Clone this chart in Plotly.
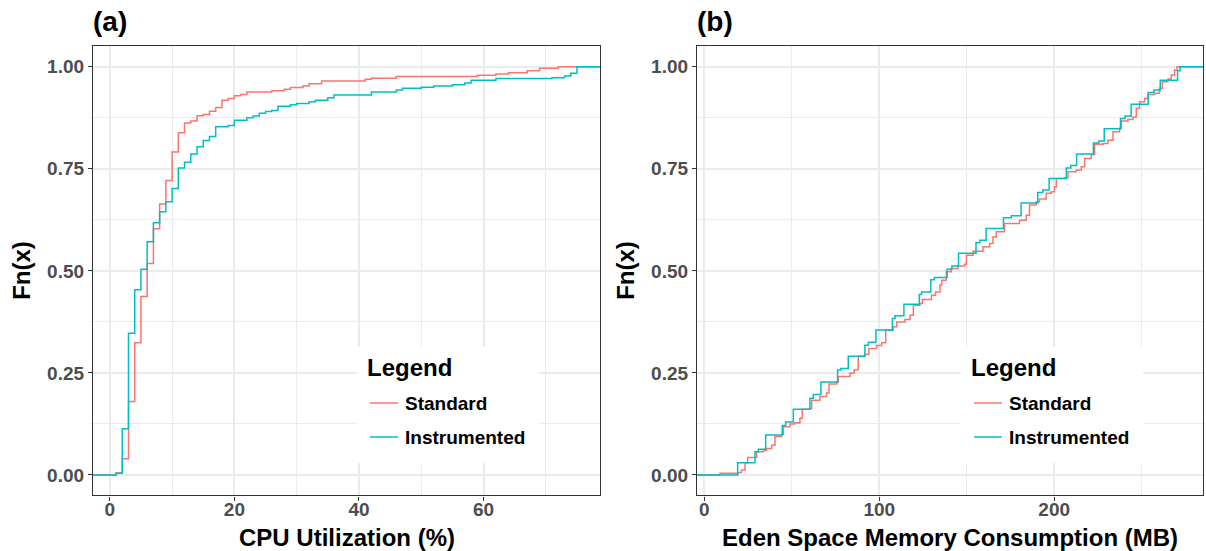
import plotly.graph_objects as go

W, H = 1206, 551

# ---------------- data ----------------
# Panel (a): CPU utilization ECDF, step positions (x) and Fn(x) after each step
cpu_std_x = [1, 2, 3, 4, 5, 6, 7, 8, 9, 10, 11, 12, 13, 14, 15, 16, 17, 18, 19, 20,
             21, 22, 26, 28, 29, 31, 32, 34, 41, 42, 46, 59, 62, 64, 67, 69, 72]
cpu_std_f = [0.005, 0.040, 0.180, 0.324, 0.437, 0.518, 0.603, 0.664, 0.721, 0.791,
             0.838, 0.862, 0.867, 0.880, 0.883, 0.891, 0.900, 0.918, 0.922, 0.929,
             0.932, 0.938, 0.941, 0.945, 0.949, 0.953, 0.958, 0.965, 0.969, 0.972,
             0.976, 0.979, 0.982, 0.985, 0.990, 0.996, 1.000]

cpu_ins_x = [1, 2, 3, 4, 5, 6, 7, 8, 9, 10, 11, 12, 13, 14, 15, 16, 17, 19, 20, 22,
             23, 24, 25, 26, 27, 29, 30, 32, 33, 35, 36, 42, 46, 47, 50, 52, 55, 57,
             58, 62, 71, 73, 74, 75]
cpu_ins_f = [0.004, 0.113, 0.347, 0.454, 0.504, 0.571, 0.618, 0.645, 0.669, 0.702,
             0.752, 0.766, 0.786, 0.804, 0.819, 0.829, 0.853, 0.856, 0.869, 0.875,
             0.879, 0.886, 0.890, 0.893, 0.903, 0.907, 0.910, 0.914, 0.918, 0.924,
             0.931, 0.938, 0.943, 0.947, 0.950, 0.953, 0.956, 0.960, 0.967, 0.971,
             0.973, 0.977, 0.984, 1.000]

# Panel (b): Eden space memory ECDF
mem_std_x = [9.0, 19.5, 21.3, 23.3, 24.8, 29.9, 33.7, 35.6, 38.5, 40.4, 44.2, 45.2,
             49.0, 51.8, 54.7, 56.0, 60.4, 61.4, 66.1, 69.9, 71.3, 75.7, 76.6, 83.3,
             85.7, 88.0, 91.8, 94.1, 98.5, 101.4, 103.7, 108.0, 110.0, 114.7, 117.6,
             119.5, 123.3, 124.6, 129.9, 132.2, 134.7, 135.7, 138.3, 141.2, 145.0,
             148.8, 149.8, 153.6, 159.3, 163.1, 165.0, 166.9, 171.6, 180.2, 184.0,
             185.9, 189.7, 191.6, 195.4, 198.3, 200.2, 201.2, 206.0, 207.9, 212.6,
             215.5, 217.4, 221.2, 223.1, 227.9, 230.7, 233.6, 237.4, 238.4, 242.1,
             245.0, 246.9, 248.8, 251.7, 253.6, 257.4, 260.2, 261.8, 265.0, 266.9,
             268.8, 270.2]
mem_std_f = [0.004, 0.006, 0.012, 0.030, 0.043, 0.057, 0.060, 0.065, 0.073, 0.094,
             0.100, 0.118, 0.125, 0.128, 0.139, 0.161, 0.163, 0.183, 0.192, 0.201,
             0.223, 0.228, 0.241, 0.250, 0.258, 0.291, 0.296, 0.310, 0.317, 0.324,
             0.355, 0.363, 0.375, 0.381, 0.391, 0.416, 0.420, 0.430, 0.440, 0.448,
             0.465, 0.477, 0.498, 0.506, 0.512, 0.516, 0.538, 0.548, 0.559, 0.567,
             0.583, 0.596, 0.616, 0.624, 0.636, 0.661, 0.669, 0.676, 0.690, 0.694,
             0.706, 0.726, 0.728, 0.743, 0.747, 0.755, 0.775, 0.785, 0.810, 0.812,
             0.820, 0.841, 0.849, 0.867, 0.871, 0.877, 0.898, 0.914, 0.922, 0.932,
             0.935, 0.947, 0.963, 0.970, 0.980, 0.992, 1.000]

mem_ins_x = [19.1, 29.0, 30.9, 35.1, 44.6, 46.5, 50.9, 60.4, 62.3, 66.7, 76.2, 78.1,
             82.3, 91.8, 93.8, 98.1, 107.5, 109.0, 114.1, 122.9, 124.2, 129.5, 131.5,
             138.8, 141.5, 145.3, 155.3, 157.5, 161.1, 171.0, 175.5, 181.1, 190.6,
             193.5, 197.1, 206.9, 209.5, 212.8, 222.4, 225.5, 228.6, 237.9, 240.5,
             244.0, 253.7, 257.0, 260.6, 270.5, 271.9]
mem_ins_f = [0.030, 0.057, 0.063, 0.098, 0.121, 0.130, 0.161, 0.188, 0.197, 0.228,
             0.257, 0.261, 0.291, 0.318, 0.325, 0.355, 0.383, 0.390, 0.418, 0.442,
             0.448, 0.478, 0.484, 0.504, 0.512, 0.543, 0.569, 0.575, 0.604, 0.630,
             0.635, 0.666, 0.692, 0.698, 0.726, 0.752, 0.758, 0.786, 0.813, 0.818,
             0.848, 0.873, 0.879, 0.908, 0.937, 0.943, 0.967, 0.990, 1.000]

series_names = ["Standard", "Instrumented"]
series_colors = ["#F8766D", "#00BFC4"]
legend_title = "Legend"

y_ticks = [0, 0.25, 0.5, 0.75, 1.0]
y_ticktext = ["0.00", "0.25", "0.50", "0.75", "1.00"]

# axis ranges (ggplot-style 5% expansion)
def expanded(lo, hi):
    r = hi - lo
    return [lo - 0.05 * r, hi + 0.05 * r]

xr_a = expanded(min(cpu_std_x + cpu_ins_x), max(cpu_std_x + cpu_ins_x))
xr_b = expanded(min(mem_std_x + mem_ins_x), max(mem_std_x + mem_ins_x))
yr = [-0.05, 1.05]

FONT = "Liberation Sans, Arial, sans-serif"

fig = go.Figure()

def add_ecdf(xs, fs, xr, name, color, xa, ya):
    px = [xr[0]] + list(xs) + [xr[1]]
    py = [0.0] + list(fs) + [1.0]
    fig.add_trace(go.Scatter(
        x=px, y=py, mode="lines", line=dict(color=color, width=1.5, shape="hv"),
        name=name, xaxis=xa, yaxis=ya, showlegend=False, hoverinfo="skip"))

add_ecdf(cpu_std_x, cpu_std_f, xr_a, series_names[0], series_colors[0], "x", "y")
add_ecdf(cpu_ins_x, cpu_ins_f, xr_a, series_names[1], series_colors[1], "x", "y")
add_ecdf(mem_std_x, mem_std_f, xr_b, series_names[0], series_colors[0], "x2", "y2")
add_ecdf(mem_ins_x, mem_ins_f, xr_b, series_names[1], series_colors[1], "x2", "y2")

def px2fx(p):
    return p / W

def px2fy(p):
    return 1 - p / H

plot_top, plot_bot = 46.3, 495.4
a_left, a_right = 93, 600
b_left, b_right = 697, 1203

common_axis = dict(
    showgrid=True, gridcolor="#EBEBEB", gridwidth=1.6,
    zeroline=False, showline=True, mirror=True, linecolor="#333333", linewidth=1.2,
    ticks="outside", ticklen=4, tickwidth=1.2, tickcolor="#333333",
    tickfont=dict(family=FONT, size=19, color="#4D4D4D", weight="bold"),
)

fig.update_layout(
    width=W, height=H,
    margin=dict(l=0, r=0, t=0, b=0),
    paper_bgcolor="white", plot_bgcolor="white",
    font=dict(family=FONT),
    showlegend=False,
    xaxis=dict(domain=[px2fx(a_left), px2fx(a_right)], range=xr_a, anchor="y",
               tickmode="linear", tick0=0, dtick=20, ticklabelstandoff=-7,
               minor=dict(dtick=10, tick0=0, showgrid=True, gridcolor="#EBEBEB", gridwidth=0.8),
               **common_axis),
    yaxis=dict(domain=[px2fy(plot_bot), px2fy(plot_top)], range=yr, anchor="x",
               tickmode="array", tickvals=y_ticks, ticktext=y_ticktext,
               minor=dict(tickvals=[0.125, 0.375, 0.625, 0.875], showgrid=True,
                          gridcolor="#EBEBEB", gridwidth=0.8, ticks=""),
               **common_axis),
    xaxis2=dict(domain=[px2fx(b_left), px2fx(b_right)], range=xr_b, anchor="y2",
                tickmode="linear", tick0=0, dtick=100, ticklabelstandoff=-7,
                minor=dict(dtick=50, tick0=0, showgrid=True, gridcolor="#EBEBEB", gridwidth=0.8),
                **common_axis),
    yaxis2=dict(domain=[px2fy(plot_bot), px2fy(plot_top)], range=yr, anchor="x2",
                tickmode="array", tickvals=y_ticks, ticktext=y_ticktext,
                minor=dict(tickvals=[0.125, 0.375, 0.625, 0.875], showgrid=True,
                           gridcolor="#EBEBEB", gridwidth=0.8, ticks=""),
                **common_axis),
)

annotations = []
shapes = []

# legends drawn inside each panel (white box covering the grid, as in the original)
for box_left in (357, 961):
    shapes.append(dict(type="rect", xref="paper", yref="paper",
                       x0=px2fx(box_left), x1=px2fx(box_left + 182),
                       y0=px2fy(463), y1=px2fy(347),
                       fillcolor="white", line=dict(width=0), layer="above"))
    annotations.append(dict(text=legend_title, x=px2fx(box_left + 8), y=px2fy(367),
                            xanchor="left", yanchor="middle",
                            font=dict(family=FONT, size=24, color="black", weight="bold")))
    for i, (nm, col) in enumerate(zip(series_names, series_colors)):
        yc = 403 + 34 * i
        shapes.append(dict(type="line", xref="paper", yref="paper",
                           x0=px2fx(box_left + 13), x1=px2fx(box_left + 41),
                           y0=px2fy(yc), y1=px2fy(yc),
                           line=dict(color=col, width=1.5), layer="above"))
        annotations.append(dict(text=nm, x=px2fx(box_left + 46), y=px2fy(yc),
                                xanchor="left", yanchor="middle",
                                font=dict(family=FONT, size=19, color="black", weight="bold")))

ann_font_big = dict(family=FONT, size=28, color="black", weight="bold")
ann_font_title = dict(family=FONT, size=24, color="black", weight="bold")
annotations += [
    dict(text="(a)", x=px2fx(a_left - 2), y=px2fy(22), xanchor="left", yanchor="middle", font=ann_font_big),
    dict(text="(b)", x=px2fx(b_left - 2), y=px2fy(22), xanchor="left", yanchor="middle", font=ann_font_big),
    dict(text="Fn(x)", x=px2fx(22), y=px2fy((plot_top + plot_bot) / 2), textangle=-90,
         xanchor="center", yanchor="middle", font=ann_font_title),
    dict(text="Fn(x)", x=px2fx(626), y=px2fy((plot_top + plot_bot) / 2), textangle=-90,
         xanchor="center", yanchor="middle", font=ann_font_title),
    dict(text="CPU Utilization (%)", x=px2fx((a_left + a_right) / 2), y=px2fy(537),
         xanchor="center", yanchor="middle", font=ann_font_title),
    dict(text="Eden Space Memory Consumption (MB)", x=px2fx((b_left + b_right) / 2), y=px2fy(537),
         xanchor="center", yanchor="middle", font=ann_font_title),
]
for a in annotations:
    a.update(xref="paper", yref="paper", showarrow=False)
fig.update_layout(annotations=annotations, shapes=shapes)

fig.write_html("out.html")
